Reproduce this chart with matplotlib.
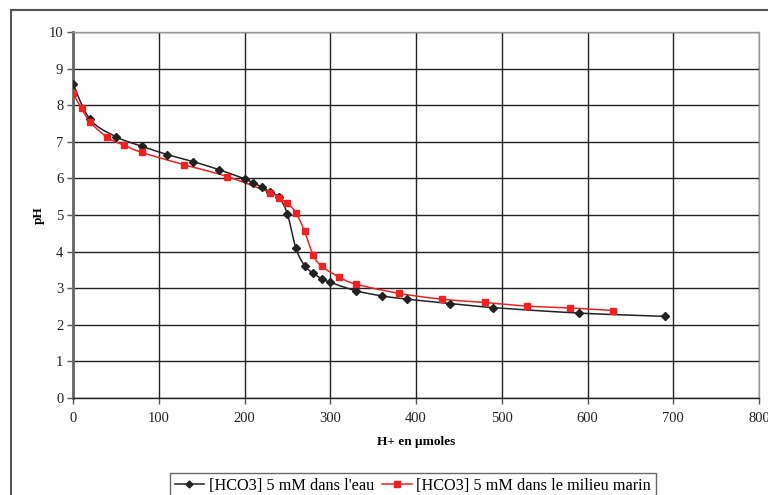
import numpy as np
import matplotlib.pyplot as plt
from matplotlib.patches import Rectangle

# [HCO3] 5 mM dans l'eau
eau_x = [0, 20, 50, 80, 110, 140, 170, 200, 210, 220, 230, 240, 250, 260,
         270, 280, 290, 300, 330, 360, 390, 440, 490, 590, 690]
eau_ph = [8.58, 7.61, 7.14, 6.88, 6.65, 6.46, 6.24, 5.99, 5.88, 5.77, 5.62,
          5.49, 5.03, 4.09, 3.62, 3.41, 3.26, 3.16, 2.93, 2.79, 2.70, 2.58,
          2.47, 2.32, 2.23]

# [HCO3] 5 mM dans le milieu marin
marin_x = [0, 10, 20, 40, 60, 80, 130, 180, 230, 240, 250, 260, 270, 280,
           290, 310, 330, 380, 430, 480, 530, 580, 630]
marin_ph = [8.32, 7.91, 7.54, 7.12, 6.90, 6.71, 6.37, 6.05, 5.61, 5.47, 5.32,
            5.06, 4.56, 3.91, 3.60, 3.31, 3.11, 2.86, 2.70, 2.61, 2.51, 2.46,
            2.39]

xticks = list(range(0, 801, 100))
yticks = list(range(0, 11))


def smooth(x, y, n=12):
    # Catmull-Rom curve through the points, like Excel's smoothed lines
    p = np.column_stack([x, y]).astype(float)
    p = np.vstack([p[0], p, p[-1]])
    out = []
    t = np.linspace(0, 1, n, endpoint=False)[:, None]
    for i in range(1, len(p) - 2):
        p0, p1, p2, p3 = p[i - 1], p[i], p[i + 1], p[i + 2]
        seg = 0.5 * ((2 * p1) + (-p0 + p2) * t
                     + (2 * p0 - 5 * p1 + 4 * p2 - p3) * t ** 2
                     + (-p0 + 3 * p1 - 3 * p2 + p3) * t ** 3)
        out.append(seg)
    out.append(p[-2][None, :])
    out = np.vstack(out)
    return out[:, 0], out[:, 1]


plt.rcParams['font.family'] = ['Liberation Serif', 'DejaVu Serif']

fig = plt.figure(figsize=(7.68, 4.95), dpi=100)
fig.patches.append(Rectangle((11 / 768, -0.1), 1.2, 1 - 10 / 495 + 0.1,
                             transform=fig.transFigure, fill=False,
                             edgecolor='#555555', linewidth=1.5))

ax = fig.add_axes([73 / 768, 1 - 398 / 495, (759 - 73) / 768, (398 - 32) / 495])

sx, sy = smooth(eau_x, eau_ph)
ax.plot(sx, sy, color='#222222', linewidth=1.1, zorder=3)
ax.plot(eau_x, eau_ph, linestyle='none', marker='D', markersize=4.5,
        color='#222222', zorder=4)

sx, sy = smooth(marin_x, marin_ph)
ax.plot(sx, sy, color='#ee2222', linewidth=1.1, zorder=3)
ax.plot(marin_x, marin_ph, linestyle='none', marker='s', markersize=5,
        color='#ee2222', zorder=4)

ax.set_xlim(0, 800)
ax.set_ylim(0, 10)
ax.set_xticks(xticks)
ax.set_yticks(yticks)
ax.grid(True, color='#222222', linewidth=1.0)
ax.set_axisbelow(True)
ax.tick_params(direction='out', length=4, width=1, colors='#555555',
               labelcolor='#222222', labelsize=10.5)
ax.tick_params(axis='y', pad=3)
ax.tick_params(axis='x', pad=6)

for side in ['top', 'right', 'bottom']:
    ax.spines[side].set_color('#999999')
    ax.spines[side].set_linewidth(1)
ax.spines['left'].set_color('#666666')
ax.spines['left'].set_linewidth(2)
ax.spines['bottom'].set_color('#222222')

ax.set_xlabel('H+ en µmoles', fontsize=9.5, fontweight='bold', labelpad=8)
ax.set_ylabel('pH', fontsize=9.5, fontweight='bold', labelpad=3)

h1, = ax.plot([], [], color='#222222', marker='D', markersize=3.5, linewidth=1.1)
h2, = ax.plot([], [], color='#ee2222', marker='s', markersize=4, linewidth=1.1)
leg = fig.legend([h1, h2], ["[HCO3] 5 mM dans l'eau",
                            '[HCO3] 5 mM dans le milieu marin'],
                 loc='center', bbox_to_anchor=(413 / 768, 1 - 486 / 495),
                 ncol=2, fontsize=11.7, frameon=True, fancybox=False,
                 edgecolor='#444444', handlelength=1.8, handletextpad=0.3,
                 columnspacing=0.5, borderpad=0.3)
leg.get_frame().set_linewidth(1)

fig.savefig('out.png', dpi=100)
